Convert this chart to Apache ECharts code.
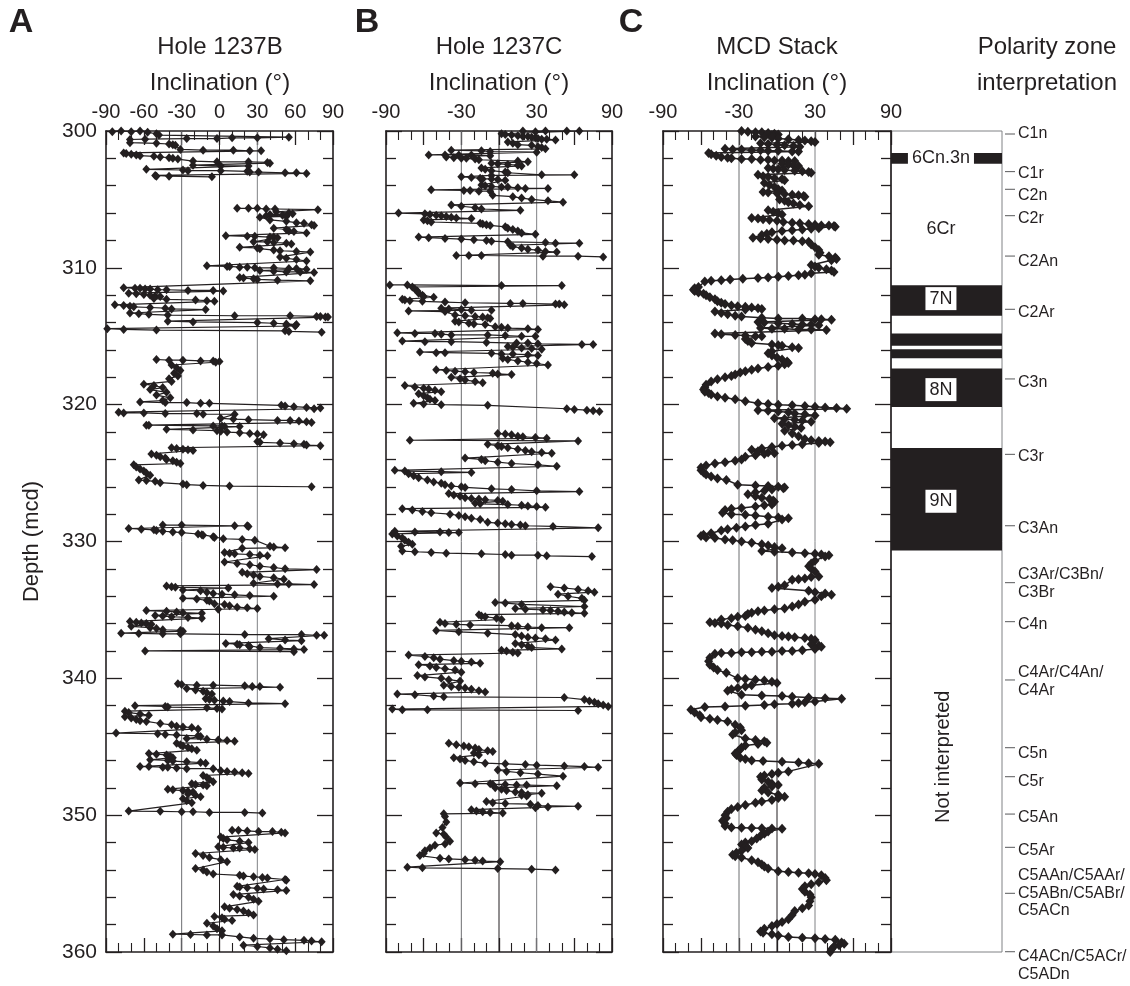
<!DOCTYPE html>
<html>
<head>
<meta charset="utf-8">
<script src="https://cdn.jsdelivr.net/npm/echarts@6/dist/echarts.min.js"></script>
<style>
  html, body { margin: 0; padding: 0; background: #fff; }
  #chart { width: 1130px; height: 986px; }
</style>
</head>
<body>
<div id="chart"></div>
<script>
// ---------- Data: [depth (mcd), inclination (deg)]; null marks a break between core sections ----------
const hole1237B = [
  [300.05,-85],[300.0,-78],[300.05,-70],[300.0,-63],[300.1,-57],[300.2,-50],[300.3,-48],
  [300.45,55],[300.5,30],[300.5,10],[300.55,-2],[300.55,-26],[300.6,-59],[300.62,-71],
  [300.85,-71],[300.9,-50],[300.95,-40],[301.0,-37],[301.05,-35],
  [301.35,-31],[301.4,-13],[301.4,11],[301.45,24],[301.45,33],
  [301.6,-76],[301.65,-74],[301.7,-70],[301.75,-66],[301.8,-63],[301.85,-52],[301.9,-47],[301.95,-40],[302.0,-37],[302.05,-33],
  [302.2,-21],[302.25,-2],[302.25,23],[302.3,38],[302.35,40],[302.5,-21],[302.55,1],[302.55,23],
  [302.8,-58],[302.85,-29],[302.9,-25],[302.9,1],[302.95,22],[303.0,24],[303.0,31],[303.05,52],[303.05,61],[303.1,69],
  [303.25,-51],[303.3,-50],[303.3,-40],[303.35,-6],
  null,
  [305.65,14],[305.65,23],[305.65,30],[305.7,37],[305.7,44],[305.75,78],
  [305.9,45],[306.0,55],[306.05,58],[306.1,40],[306.15,50],[306.2,37],[306.25,53],[306.3,32],
  [306.5,40],[306.6,53],[306.7,61],[306.75,67],[306.85,73],[306.9,75],
  [307.1,43],[307.2,53],[307.3,55],[307.35,59],[307.45,69],
  [307.65,5],[307.7,22],[307.7,28],[307.75,40],[307.75,43],[307.8,46],
  [308.1,27],[308.1,38],[308.15,43],[308.2,53],[308.25,57],
  [308.5,16],[308.55,30],[308.6,32],[308.7,43],[308.75,48],[308.8,61],[308.85,72],
  [309.2,48],[309.3,53],[309.4,61],[309.5,69],
  [309.85,-10],[309.9,6],[309.9,8],[309.95,16],[309.95,22],[310.0,28],[310.0,43],[310.05,55],[310.05,61],[310.1,69],
  [310.2,32],[310.25,43],[310.3,53],[310.3,64],[310.35,75],
  [310.7,16],[310.75,19],[310.8,27],[310.85,30],[310.9,46],[310.95,72],
  [311.45,-76],[311.5,-67],[311.5,-63],[311.55,-59],[311.55,-55],[311.6,-49],[311.6,-42],[311.65,-25],[311.65,-5],[311.7,3],
  [311.85,-72],[311.9,-66],[311.95,-60],[312.0,-55],[312.05,-51],[312.1,-47],
  [312.25,-52],[312.3,-42],[312.35,-19],[312.4,-10],[312.45,-4],
  [312.7,-83],[312.75,-76],[312.8,-71],[312.85,-68],[312.9,-55],[312.95,-43],[313.0,-38],[313.05,-11],
  [313.3,-71],[313.35,-64],[313.4,-56],[313.45,-41],[313.5,12],[313.5,56],[313.55,77],[313.55,80],[313.6,84],[313.6,86],
  [313.9,-41],[313.95,-21],[314.0,30],[314.05,43],[314.1,53],[314.15,61],[314.2,53],[314.25,60],
  [314.45,-89],[314.5,-76],[314.55,-50],[314.6,52],[314.65,55],[314.7,81],
  null,
  [316.7,-50],[316.75,-40],[316.75,-29],[316.8,-15],[316.8,-5],[316.85,0],[316.9,-3],
  [317.1,-38],[317.3,-34],[317.5,-31],[317.7,-36],[317.9,-33],[318.1,-40],[318.3,-38],
  [318.5,-60],[318.6,-52],[318.75,-45],[318.9,-55],[319.1,-42],[319.3,-50],[319.5,-39],[319.7,-45],
  [319.8,-63],[319.85,-43],[319.85,-26],[319.9,-15],[319.9,-8],
  [320.05,49],[320.1,52],[320.15,59],[320.2,69],[320.25,80],[320.3,75],
  [320.55,-80],[320.6,-76],[320.6,-60],[320.65,-43],[320.65,-18],[320.7,-13],[320.7,12],
  [321.0,1],[321.05,11],[321.1,23],[321.15,46],[321.15,56],[321.2,63],[321.25,69],[321.3,73],
  [321.5,-58],[321.5,-56],[321.55,-5],[321.55,2],[321.6,4],[321.6,16],
  [321.8,-42],[321.85,-21],[321.9,-2],[321.95,1],[322.0,6],[322.05,16],[322.1,24],[322.15,30],[322.2,35],
  [322.7,30],[322.75,32],[322.8,48],[322.85,59],[322.9,67],[322.95,69],[323.0,80],
  [323.15,-38],[323.2,-34],[323.25,-29],[323.3,-25],[323.35,-21],
  [323.6,-54],[323.7,-50],[323.8,-47],[323.9,-43],[324.0,-42],[324.1,-37],[324.2,-34],[324.3,-31],
  [324.4,-68],[324.55,-66],[324.7,-63],[324.85,-60],[325.0,-58],[325.15,-55],
  [325.5,-64],[325.55,-58],[325.6,-51],[325.7,-47],[325.8,-29],[325.85,-26],[325.9,-13],[325.95,8],[326.0,73],
  null,
  [328.8,-45],[328.8,-30],[328.85,12],[328.85,22],[328.9,23],
  [329.05,-72],[329.1,-62],[329.15,-52],[329.2,-50],[329.25,-45],[329.3,-37],[329.35,-30],
  [329.45,-17],[329.5,-14],[329.55,-13],[329.65,-5],[329.7,-4],[329.8,3],[329.85,18],[329.9,28],
  [330.35,40],[330.4,43],[330.45,52],[330.5,18],
  [330.8,4],[330.85,8],[330.9,12],[330.95,24],[331.0,32],[331.05,38],
  [331.5,4],[331.6,14],[331.7,24],[331.8,32],[331.9,43],[332.0,52],[332.05,77],
  [332.25,18],[332.35,22],[332.45,27],[332.55,32],[332.65,43],[332.75,51],
  [333.05,27],[333.1,46],[333.1,55],[333.15,75],
  [333.25,-42],[333.3,-38],[333.35,-35],[333.4,7],
  [333.55,-29],[333.6,-15],[333.7,-10],[333.8,-5],[333.85,2],[333.9,12],[333.95,24],[334.0,43],
  [334.15,-29],[334.2,-18],[334.3,-10],[334.35,-8],
  [334.55,-4],[334.6,4],[334.7,8],[334.8,14],[334.85,22],[334.9,30],[334.95,-1],
  [335.05,-58],[335.1,-42],[335.15,-34],[335.2,-29],[335.25,-14],
  [335.4,-51],[335.45,-45],[335.5,-38],[335.55,-25],[335.6,-14],
  [335.85,-71],[335.9,-66],[335.95,-62],[336.0,-58],[336.05,-54],
  [336.2,-70],[336.3,-55],[336.35,-50],[336.45,-45],[336.5,-31],[336.55,-29],
  [336.7,-78],[336.72,-64],[336.75,-45],[336.75,-31],[336.8,20],[336.8,65],[336.85,77],[336.85,83],
  [337.1,39],[337.2,52],[337.25,65],
  [337.45,5],[337.5,14],[337.55,16],[337.6,23],[337.7,24],[337.75,32],[337.8,48],[337.85,59],[337.9,67],
  [338.0,-59],[338.05,59],
  null,
  [340.4,-33],[340.45,-30],[340.5,-18],[340.5,-5],[340.55,20],[340.6,26],[340.6,32],[340.65,48],
  [340.75,-26],[340.85,-19],[340.95,-13],[341.05,-10],[341.15,-6],
  [341.5,-11],[341.55,-8],[341.6,-4],[341.65,3],[341.7,8],[341.8,23],[341.85,52],
  [342.0,-67],[342.05,-43],[342.1,-41],[342.15,-10],[342.2,-2],[342.25,2],
  [342.4,-75],[342.5,-72],[342.6,-63],[342.7,-56],
  [342.8,-75],[342.9,-70],[343.0,-66],[343.1,-63],[343.15,-58],
  [343.3,-47],[343.4,-38],[343.5,-34],[343.55,-29],[343.6,-22],[343.7,-17],
  [344.0,-82],[344.05,-49],[344.1,-43],[344.15,-34],[344.2,-17],[344.25,-15],
  [344.4,-26],[344.45,-10],[344.5,-1],[344.55,6],[344.6,12],
  [344.75,-34],[344.85,-31],[344.95,-29],[345.05,-25],[345.15,-22],[345.25,-18],
  [345.5,-56],[345.55,-50],[345.6,-42],[345.7,-39],[345.8,-37],
  [345.95,-55],[346.0,-41],[346.05,-37],[346.1,-26],[346.15,-15],[346.2,-11],
  [346.45,-63],[346.45,-56],[346.5,-45],[346.5,-41],[346.55,-34],[346.6,-26],[346.6,-5],
  [346.75,1],[346.8,6],[346.85,12],[346.9,18],[346.95,23],
  [347.1,-13],[347.25,-10],[347.4,-8],[347.55,-5],
  [347.7,-22],[347.75,-19],[347.8,-13],[347.85,-10],
  [348.1,-41],[348.15,-37],[348.2,-29],[348.25,-25],[348.3,-21],
  [348.45,-25],[348.55,-19],[348.65,-15],
  [348.8,-29],[348.95,-26],[349.1,-22],
  [349.7,-72],[349.72,-47],[349.75,-30],[349.75,-21],[349.8,-8],[349.8,20],[349.85,34],
  null,
  [351.1,10],[351.1,15],[351.15,22],[351.2,31],[351.2,42],[351.25,49],[351.3,52],
  [351.6,1],[351.7,3],[351.8,6],[351.9,16],[352.0,23],
  [352.3,-1],[352.35,3],[352.4,11],[352.4,16],[352.45,24],[352.5,28],
  [352.8,-19],[352.95,-13],[353.1,-8],[353.25,1],[353.4,6],
  [353.9,-19],[354.0,-13],[354.15,-10],[354.3,-5],
  [354.4,16],[354.45,19],[354.5,27],[354.55,34],[354.6,38],[354.7,52],[354.75,53],
  [355.2,14],[355.25,16],[355.3,22],[355.35,30],[355.4,35],[355.45,46],[355.5,53],
  [355.8,11],[355.9,16],[356.0,23],[356.15,27],[356.3,31],
  [356.7,4],[356.8,8],[356.9,14],[357.0,19],[357.15,23],[357.3,27],
  [357.4,-4],[357.5,2],[357.6,4],[357.7,10],
  [357.9,-10],[358.1,-5],[358.3,-2],[358.45,2],
  [358.7,-37],[358.72,-23],[358.75,-10],[358.75,2],
  [358.9,16],[359.0,27],[359.05,40],[359.1,51],[359.15,67],[359.2,73],[359.25,81],
  [359.5,19],[359.6,30],[359.7,40],[359.8,46],[359.9,53]
];

const hole1237C = [
  [300.0,19],[300.05,29],[300.0,37],[300.0,54],[300.0,64],
  [300.2,2],[300.25,5],[300.3,10],[300.35,15],[300.4,19],[300.4,23],[300.45,26],[300.5,29],[300.55,31],[300.6,34],[300.6,38],[300.65,45],
  [300.8,7],[300.9,11],[301.0,15],[301.05,26],[301.15,31],[301.2,34],[301.3,37],
  [301.4,-38],[301.45,-14],[301.5,-7],[301.55,30],
  [301.75,-56],[301.75,-43],[301.75,-32],[301.75,-22],[301.8,-7],
  [301.9,-42],[301.95,-36],[302.0,-30],[302.0,-26],[302.05,-19],[302.1,-16],
  [302.2,15],[302.25,23],[302.35,-6],[302.4,-1],[302.45,7],[302.5,15],[302.55,18],
  [302.7,-14],[302.8,-11],[302.9,-6],[303.0,5],[303.05,7],
  [303.2,34],[303.2,60],[303.25,-6],
  [303.35,-30],[303.4,-22],[303.45,-15],[303.5,-13],[303.5,-6],[303.55,-1],[303.6,5],
  [303.95,-14],[304.0,-11],[304.05,-6],[304.1,2],[304.1,7],[304.15,15],[304.2,21],[304.2,39],
  [304.3,-54],[304.35,-28],[304.35,-23],[304.4,-16],[304.4,-7],
  [304.7,-5],[304.8,11],[304.9,18],[305.0,26],[305.1,39],[305.2,51],
  [305.4,-38],[305.5,-30],[305.6,-19],[305.7,-14],[305.8,17],
  [306.0,-80],[306.05,-59],[306.1,-55],[306.15,-50],[306.2,-46],[306.25,-42],[306.3,-38],[306.35,-34],[306.4,-22],
  [306.5,-60],[306.55,-57],[306.65,-54],[306.75,-15],[306.8,-13],[306.85,-10],[306.9,-7],
  [307.0,5],[307.1,7],[307.2,11],[307.3,15],[307.45,18],[307.55,29],
  [307.75,-64],[307.8,-56],[307.85,-43],[307.9,-30],[307.95,-20],[308.0,-10],[308.05,-6],[308.1,7],[308.15,37],[308.2,45],[308.2,64],
  [308.35,9],[308.45,11],[308.55,18],[308.65,23],[308.7,31],[308.8,37],[308.85,46],
  [309.1,-34],[309.1,-24],[309.1,-14],[309.15,35],[309.15,63],[309.2,83],
  null,
  [311.25,-87],[311.25,-73],[311.3,2],[311.3,50],
  [311.4,-69],[311.55,-67],[311.7,-65],[311.85,-64],[312.0,-61],[312.1,-60],[312.15,-52],
  [312.3,-77],[312.35,-75],[312.4,-71],[312.45,-61],[312.5,-43],[312.55,-27],[312.6,9],[312.6,19],[312.65,45],[312.65,48],[312.7,52],
  [312.95,-46],[313.0,-40],[313.05,-30],[313.1,-22],[313.1,-6],[313.15,-72],[313.2,-43],
  [313.45,-35],[313.5,-27],[313.55,-19],[313.6,-13],[313.65,-9],[313.7,-7],
  [313.9,-35],[313.95,-32],[314.05,-24],[314.1,-20],[314.15,-11],
  [314.3,-3],[314.35,2],[314.4,7],[314.45,23],[314.5,31],
  [314.75,-81],[314.8,-67],[314.8,-51],[314.85,-46],[314.9,-38],[314.9,-9],[314.95,5],[315.0,18],[315.0,29],
  [315.35,-77],[315.4,-59],[315.4,-38],[315.45,-10],[315.5,14],[315.5,23],[315.55,31],[315.6,66],[315.6,75],
  [315.75,7],[315.8,11],[315.85,18],[315.9,26],[315.95,34],
  [316.15,-63],[316.2,-50],[316.2,-43],[316.25,-6],[316.3,2],[316.3,11],[316.35,23],[316.4,31],
  [316.6,3],[316.7,7],[316.8,15],[316.9,23],[317.0,30],[317.1,39],
  [317.45,-50],[317.5,-42],[317.55,-35],[317.6,-27],[317.65,-20],[317.7,-5],[317.75,-1],[317.8,10],
  [318.0,-38],[318.1,-31],[318.2,-27],[318.3,-19],[318.4,-13],
  [318.6,-75],[318.7,-67],[318.8,-60],[318.85,-56],[318.95,-51],[319.05,-46],
  [319.2,-64],[319.35,-60],[319.5,-57],[319.6,-55],[319.7,-51],
  [319.9,-68],[319.95,-60],[320.0,-46],[320.05,-9],
  [320.3,54],[320.35,60],[320.4,70],[320.45,75],[320.5,80],
  null,
  [322.1,-1],[322.15,5],[322.2,10],[322.3,15],[322.35,19],[322.4,29],[322.45,38],[322.6,-71],[322.65,63],
  [322.9,-9],[323.0,-1],[323.05,2],[323.15,7],[323.25,15],[323.35,21],[323.45,26],[323.5,34],[323.55,42],
  [323.9,-27],[324.0,-14],[324.1,-11],[324.2,-1],[324.3,10],[324.4,31],[324.5,46],
  [324.8,-83],[324.85,-75],[324.9,-46],[324.95,-22],
  [325.05,-72],[325.2,-68],[325.35,-64],[325.5,-57],[325.65,-52],[325.75,-46],[325.85,-43],
  [325.95,-38],[326.0,-30],[326.05,-27],[326.15,-6],[326.2,10],[326.3,30],[326.35,64],
  [326.5,-40],[326.6,-36],[326.7,-31],[326.8,-27],[326.85,-22],[326.9,-16],[326.95,-11],[327.0,-1],[327.05,3],
  [327.2,-19],[327.25,-15],[327.3,7],[327.35,18],[327.4,23],[327.45,30],[327.5,37],
  [327.6,-77],[327.7,-69],[327.8,-61],[327.9,-54],[328.0,-39],[328.1,-32],[328.2,-27],[328.3,-22],[328.4,-15],
  [328.6,-9],[328.65,-1],[328.7,5],[328.75,10],[328.8,17],[328.85,21],[328.9,43],[329.0,79],
  [329.25,-83],[329.3,-67],[329.3,-47],[329.35,-40],[329.35,-32],
  [329.45,-85],[329.6,-81],[329.75,-77],[329.9,-75],[330.05,-72],[330.2,-69],[330.35,-78],
  [330.7,-77],[330.75,-67],[330.8,-54],[330.85,-42],[330.9,-14],[330.95,5],[331.0,10],[331.0,31],[331.05,38],[331.1,74],
  null,
  [333.3,41],[333.4,52],[333.5,63],[333.6,71],[333.7,76],
  [333.85,47],[334.0,55],[334.15,66],[334.3,68],
  [334.45,-3],[334.5,5],[334.6,18],[334.75,68],
  [334.9,13],[334.95,21],[335.0,35],[335.05,41],[335.1,47],[335.15,52],[335.2,58],[335.25,68],
  [335.35,-16],[335.45,-14],[335.5,-11],[335.6,-2],[335.7,2],
  [335.9,-47],[336.0,-43],[336.05,-34],[336.1,-23],[336.15,10],[336.2,15],[336.25,23],[336.3,34],[336.3,56],
  [336.5,-50],[336.6,-32],[336.7,-9],[336.8,13],[336.9,18],[337.0,23],[337.05,29],[337.1,37],[337.2,45],
  [337.45,13],[337.55,18],[337.65,23],[337.75,26],[337.85,50],
  [337.95,2],[338.0,6],[338.1,11],[338.15,15],
  [338.3,-72],[338.4,-59],[338.5,-52],[338.6,-47],[338.7,-36],[338.75,-30],[338.8,-22],[338.9,-15],
  [339.0,-64],[339.1,-55],[339.2,-50],[339.3,-43],[339.4,-35],[339.55,-30],
  [339.8,-65],[339.9,-59],[340.0,-46],[340.1,-40],[340.2,-31],
  [340.5,-44],[340.6,-38],[340.65,-32],[340.7,-27],[340.8,-22],[340.9,-16],[341.0,-11],
  [341.15,-81],[341.2,-67],[341.3,-52],[341.35,-44],[341.4,52],
  [341.55,68],[341.65,72],[341.75,76],[341.85,79],[341.95,83],[342.05,87],
  [342.25,-85],[342.3,-77],[342.3,-57],[342.35,63],
  null,
  [344.75,-40],[344.85,-34],[344.95,-28],[345.0,-24],[345.1,-19],[345.2,-16],[345.3,-9],[345.35,-5],
  [345.45,-20],[345.6,-16],
  [345.8,-36],[345.9,-31],[346.0,-27],[346.1,-20],[346.2,-11],[346.25,5],[346.3,21],[346.35,30],[346.4,52],[346.45,68],[346.5,79],
  [346.7,-1],[346.8,6],[346.9,17],[347.0,31],[347.15,51],
  [347.65,-31],[347.7,-19],[347.7,-7],[347.75,-5],[347.75,5],[347.8,14],[347.8,22],[347.85,46],
  [348.0,-3],[348.1,2],[348.2,6],[348.3,13],[348.35,18],[348.4,34],[348.5,23],[348.55,18],[348.6,22],
  [349.0,-10],[349.1,-5],[349.15,5],[349.2,25],[349.3,31],[349.35,63],[349.4,39],[349.45,29],
  [349.6,-22],[349.7,-18],[349.75,-13],[349.8,-7],[349.85,3],
  [349.9,-44],[350.1,-43],[350.5,-42],[350.9,-45],[351.3,-50],[351.4,-44],[351.6,-42],[351.9,-39],[352.1,-43],[352.2,-51],[352.4,-55],[352.6,-59],[352.8,-60],[352.95,-63],
  [353.15,-47],[353.2,-40],[353.25,-27],[353.3,-19],[353.35,-13],[353.4,1],
  [353.8,-73],[353.85,-61],[353.9,-1],[353.95,26],[354.0,45]
];

const mcdStack = [
  [300.0,-28],[300.05,-23],[300.1,-17],[300.1,-12],[300.15,-7],[300.2,-2],[300.25,1],[300.3,-4],
  [300.4,-17],[300.45,-10],[300.5,-4],[300.55,1],[300.6,9],[300.65,17],[300.7,22],[300.75,27],[300.8,30],
  [300.9,-13],[300.95,-7],[301.0,0],[301.05,6],[301.1,13],[301.15,18],
  [301.3,-41],[301.35,-35],[301.35,-28],[301.4,-20],[301.4,-13],[301.45,-7],[301.45,1],[301.5,12],[301.5,17],
  [301.6,-54],[301.7,-52],[301.8,-48],[301.9,-44],[301.95,-39],
  [302.0,-36],[302.05,-28],[302.05,-20],[302.1,-13],[302.1,-7],[302.15,-2],[302.15,4],[302.2,9],[302.2,14],
  [302.4,4],[302.45,9],[302.5,13],[302.55,17],
  [302.7,-7],[302.75,-3],[302.8,1],[302.85,6],[302.9,14],[302.95,20],[303.0,25],[303.05,27],
  [303.2,-15],[303.3,-11],[303.35,-7],[303.45,-2],[303.5,4],[303.6,6],
  [303.8,-10],[303.95,-6],[304.1,-2],[304.25,1],[304.35,4],
  [304.45,-11],[304.5,-7],[304.55,0],[304.6,6],[304.65,12],[304.7,17],[304.75,21],[304.8,22],
  [305.0,2],[305.1,6],[305.2,9],[305.3,13],[305.4,18],[305.5,25],
  [305.8,-7],[305.9,-3],[306.0,1],[306.1,4],
  [306.35,-20],[306.4,-15],[306.45,-11],[306.5,-6],[306.55,0],
  [306.65,5],[306.7,12],[306.75,18],[306.8,25],[306.85,30],[306.9,35],[306.9,41],[306.95,45],[307.0,46],
  [307.1,33],[307.15,27],[307.2,20],[307.25,12],[307.3,4],[307.4,-4],[307.5,-8],[307.6,-12],
  [307.8,-19],[307.85,-13],[307.9,-7],[307.95,0],[308.0,6],[308.0,13],[308.05,20],[308.1,25],
  [308.3,27],[308.5,30],[308.7,33],[308.9,34],[309.05,33],
  [309.15,41],[309.25,46],[309.35,47],[309.45,43],
  [309.8,27],[309.9,30],[310.0,33],[310.1,39],[310.2,43],[310.3,45],
  [310.4,27],[310.5,22],[310.55,17],[310.6,9],[310.65,1],[310.7,-7],[310.75,-15],[310.8,-27],[310.85,-37],[310.9,-44],[310.95,-52],[311.0,-57],
  [311.4,-62],[311.5,-65],[311.6,-66],[311.7,-65],[311.8,-62],[311.9,-58],
  [312.0,-56],[312.15,-53],[312.3,-49],[312.45,-47],[312.55,-44],[312.65,-41],
  [312.75,-36],[312.8,-31],[312.85,-25],[312.9,-20],[312.95,-15],[313.0,-12],[313.05,-25],
  [313.2,-49],[313.3,-44],[313.4,-39],[313.5,-33],[313.55,-28],
  [313.65,-12],[313.7,1],[313.7,20],[313.75,30],[313.75,35],[313.8,43],
  [313.95,-15],[314.0,-10],[314.05,1],[314.1,12],[314.15,20],[314.15,27],[314.2,33],
  [314.4,-13],[314.45,-4],[314.45,6],[314.5,17],[314.5,27],[314.55,39],
  [314.8,-49],[314.85,-44],[314.9,-33],[314.95,-25],[315.0,-17],[315.0,-12],
  [315.2,-25],[315.35,-23],[315.5,-20],
  [315.6,-4],[315.65,1],[315.7,4],[315.8,12],[315.85,17],
  [316.1,-4],[316.25,-7],[316.4,-4],[316.55,0],
  [316.7,4],[316.85,8],[316.95,9],[317.05,6],[317.15,1],
  [317.25,-7],[317.35,-15],[317.45,-20],[317.55,-25],[317.65,-29],
  [317.8,-33],[317.9,-36],[318.0,-41],[318.15,-47],[318.3,-52],
  [318.55,-56],[318.75,-57],[318.9,-58],[319.05,-57],[319.15,-54],[319.25,-52],
  [319.4,-47],[319.5,-41],[319.6,-33],[319.75,-25],
  [319.9,-15],[319.95,-7],[320.0,1],[320.05,12],[320.1,22],[320.15,30],[320.2,38],[320.25,47],[320.3,55],
  [320.4,-15],[320.45,-7],[320.5,1],[320.55,9],[320.65,14],[320.7,22],[320.8,30],
  [321.0,-2],[321.05,6],[321.1,14],[321.15,20],[321.25,27],
  [321.4,4],[321.5,9],[321.6,14],[321.7,19],
  [321.9,6],[322.1,12],[322.3,17],[322.5,22],
  [322.6,27],[322.65,33],[322.7,38],[322.75,42],[322.8,33],
  [322.9,20],[322.95,12],[323.0,4],[323.1,-4],[323.2,-12],
  [323.3,-20],[323.4,-15],[323.5,-7],[323.55,-2],[323.6,-10],[323.7,-17],[323.8,-25],
  [324.0,-28],[324.1,-33],[324.2,-41],[324.3,-49],[324.45,-56],[324.6,-60],
  [324.8,-60],[324.95,-58],[325.1,-56],[325.25,-52],[325.4,-47],[325.5,-40],
  [325.85,-31],[325.9,-17],[325.95,-7],[326.0,1],[326.05,6],[326.1,5],
  [326.2,-4],[326.3,-10],[326.4,-17],[326.55,-23],
  [326.7,-17],[326.8,-12],[326.9,-6],[327.0,-3],[327.1,-2],
  [327.3,-4],[327.35,-10],[327.45,-17],[327.55,-28],[327.6,-36],[327.7,-41],
  [327.9,-43],[328.0,-36],[328.05,-25],[328.1,-17],[328.2,-7],[328.25,1],[328.3,9],[328.4,4],
  [328.7,-7],[328.8,-17],[328.9,-25],[329.0,-32],[329.1,-39],[329.2,-44],
  [329.4,-52],[329.5,-58],[329.6,-60],[329.7,-56],[329.75,-49],[329.85,-41],[329.9,-35],
  [330.0,-28],[330.1,-20],[330.2,-12],[330.3,-7],[330.4,-2],[330.5,4],
  [330.7,-12],[330.75,-2],[330.8,12],[330.85,22],[330.9,30],[330.95,35],[331.0,41],[331.1,38],
  [331.4,30],[331.6,27],[331.8,25],[332.0,27],[332.2,30],
  [332.55,33],[332.6,27],[332.7,22],[332.75,17],[332.8,12],
  [333.2,6],[333.3,1],[333.4,-4],
  [333.6,25],[333.7,30],[333.8,38],[333.9,43],[334.0,35],
  [334.25,30],[334.4,22],[334.6,17],[334.75,12],
  [334.9,6],[334.95,-2],[335.05,-10],[335.1,-15],[335.2,-20],[335.3,-23],
  [335.45,-25],[335.5,-31],[335.6,-36],[335.7,-44],
  [335.9,-53],[335.95,-49],[336.0,-44],[336.1,-39],[336.2,-31],[336.3,-23],
  [336.45,-17],[336.55,-12],[336.7,-7],[336.85,-2],
  [336.9,4],[336.95,9],[337.0,14],[337.05,22],[337.1,27],[337.2,30],
  [337.5,27],[337.6,33],[337.7,35],[337.85,30],
  [337.95,20],[338.0,12],[338.0,4],[338.05,-4],[338.05,-12],[338.1,-20],[338.1,-28],[338.15,-36],[338.15,-44],[338.2,-49],
  [338.5,-53],[338.75,-54],[339.0,-53],[339.2,-50],[339.4,-47],[339.6,-40],
  [340.0,-31],[340.05,-25],[340.1,-17],[340.15,-10],[340.25,-4],[340.35,0],
  [340.5,-20],[340.6,-25],[340.7,-31],[340.8,-36],[340.9,-39],
  [341.2,-28],[341.25,-12],[341.3,4],[341.35,12],[341.4,25],[341.45,38],[341.5,51],
  [341.7,30],[341.75,22],[341.8,17],[341.85,12],[341.9,-2],[341.95,-10],[342.0,-25],[342.05,-41],[342.1,-57],
  [342.3,-68],[342.5,-65],[342.7,-61],
  [342.85,-60],[342.95,-53],[343.05,-47],[343.15,-39],
  [343.4,-33],[343.6,-29],[343.8,-28],[343.95,-33],[344.1,-35],
  [344.4,-25],[344.5,-17],[344.6,-10],[344.7,-8],[344.8,-15],[344.9,-25],
  [345.05,-28],[345.2,-29],[345.35,-31],[345.5,-33],[345.6,-32],
  [345.8,-29],[345.9,-25],[346.0,-20],[346.05,-11],[346.1,4],[346.15,17],[346.2,25],[346.25,33],
  [346.8,9],[346.9,1],[347.0,-4],[347.1,-10],[347.2,-13],
  [347.4,-12],[347.55,-7],[347.7,-4],[347.8,1],[347.9,-4],[348.0,-10],
  [348.2,-12],[348.35,-7],[348.5,1],[348.65,6],[348.75,1],[348.9,-4],[349.0,-12],
  [349.1,-17],[349.25,-25],[349.4,-31],[349.55,-36],[349.75,-39],
  [350.0,-41],[350.2,-40],[350.4,-43],[350.6,-41],[350.8,-41],
  [350.9,-36],[350.92,-28],[350.94,-20],[350.96,-12],[350.98,-4],[351.0,4],
  [351.2,-7],[351.35,-10],[351.5,-13],[351.7,-16],[351.9,-20],
  [352.0,-25],[352.15,-28],[352.3,-25],[352.4,-23],
  [352.6,-28],[352.75,-32],[352.9,-35],[353.0,-33],[353.1,-28],
  [353.3,-20],[353.45,-15],[353.6,-12],[353.75,-10],[353.9,-7],
  [354.1,1],[354.15,9],[354.2,17],[354.25,25],[354.3,30],[354.4,35],
  [354.6,38],[354.75,39],[354.9,33],[355.05,27],[355.2,22],[355.4,20],
  [355.6,22],[355.8,26],[356.0,27],[356.3,26],[356.6,25],
  [356.8,20],[357.0,14],[357.3,12],[357.6,9],
  [357.8,4],[357.95,0],[358.1,-4],[358.3,-10],
  [358.5,-13],[358.6,-11],[358.7,-4],[358.8,1],
  [358.9,9],[358.95,20],[359.0,30],[359.05,38],[359.1,46],
  [359.3,51],[359.4,53],[359.5,49],[359.6,45],
  [359.8,43],[360.0,42]
];

// Polarity zones: [top depth, bottom depth] of normal (black) intervals
const normalZones = [[301.6,302.4],[311.27,313.5],[314.8,315.7],[315.95,316.6],[317.36,320.17],[323.17,330.65]];
// Zone names: [depth, name, boxed]
const zoneNames = [[301.97,'6Cn.3n',true],[307.16,'6Cr',false],[312.25,'7N',true],[318.9,'8N',true],[327.06,'9N',true]];
const notInterpretedDepth = 345.73;

// Chron correlation: tick depth, label depth, label
const chronTick = [300.22,302.97,304.26,306.19,309.14,313.03,318.12,323.63,328.85,333.01,335.86,340.12,345.07,347.19,349.92,352.35,355.71,359.98];
const chronLabelDepth = [300.22,303.09,304.75,306.43,309.55,313.28,318.37,323.8,329.09,333.06,336.1,340.24,345.48,347.55,350.16,352.6,355.71,361.0];
const chronNames = ['C1n','C1r','C2n','C2r','C2An','C2Ar','C3n','C3r','C3An','C3Ar/C3Bn/\nC3Br','C4n','C4Ar/C4An/\nC4Ar','C5n','C5r','C5An','C5Ar','C5AAn/C5AAr/\nC5ABn/C5ABr/\nC5ACn','C4ACn/C5ACr/\nC5ADn'];

// Inclination grid lines and labelled ticks
const gridValues = [-30, 0, 30];
const gridColors = ['#6d6e71', '#231f20', '#808285'];
const ticksA = [-90, -60, -30, 0, 30, 60, 90];
const ticksBC = [-90, -30, 30, 90];

// ---------- Chart ----------
const INK = '#231f20';
const FONT = '"Liberation Sans", Arial, Helvetica, sans-serif';
const chart = echarts.init(document.getElementById('chart'));

const panels = [
  { left: 106, width: 227, data: hole1237B, labels: ticksA, sym: [8, 9], lw: 1.2 },
  { left: 386, width: 226, data: hole1237C, labels: ticksBC, sym: [8, 9], lw: 1.2 },
  { left: 663, width: 228, data: mcdStack, labels: ticksBC, sym: [9, 10], lw: 1.5 }
];
const TOP = 131, HEIGHT = 821;

const grids = panels.map(p => ({ left: p.left, width: p.width, top: TOP, height: HEIGHT, containLabel: false, outerBoundsMode: 'none' }));
grids.push({ left: 891, width: 111, top: TOP, height: HEIGHT, show: true, borderColor: '#808285', borderWidth: 1, backgroundColor: 'transparent', containLabel: false, outerBoundsMode: 'none' });

const axisLine = { show: true, onZero: false, lineStyle: { color: INK, width: 1.6 } };
const xAxes = [], yAxes = [];
panels.forEach((p, i) => {
  const base = {
    type: 'value', gridIndex: i, min: -90, max: 90, interval: 30,
    axisLine, splitLine: { show: false },
    axisTick: { show: true, inside: true, length: 14, lineStyle: { color: INK, width: 1.3 } },
    minorTick: { show: true, splitNumber: 3, length: 9, lineStyle: { color: INK, width: 1.1 } },
    minorSplitLine: { show: false }
  };
  xAxes.push(Object.assign({}, base, {
    position: 'top',
    axisLabel: {
      show: true, color: INK, fontSize: 20, fontFamily: FONT, margin: 9,
      showMinLabel: true, showMaxLabel: true,
      formatter: v => (p.labels.indexOf(v) >= 0 ? String(v) : '')
    }
  }));
  xAxes.push(Object.assign({}, base, { position: 'bottom', axisLabel: { show: false } }));
  const ybase = {
    type: 'value', gridIndex: i, inverse: true, min: 300, max: 360, interval: 10,
    axisLine, splitLine: { show: false },
    axisTick: { show: true, inside: true, length: 16, lineStyle: { color: INK, width: 1.3 } },
    minorTick: { show: true, splitNumber: 5, length: 10, lineStyle: { color: INK, width: 1.3 } },
    minorSplitLine: { show: false }
  };
  yAxes.push(Object.assign({}, ybase, {
    position: 'left',
    axisLabel: { show: i === 0, color: INK, fontSize: 21, fontFamily: FONT, margin: 9 },
    name: i === 0 ? 'Depth (mcd)' : '',
    nameLocation: 'middle', nameRotate: 90, nameGap: 63,
    nameTextStyle: { color: INK, fontSize: 22, fontFamily: FONT }
  }));
  yAxes.push(Object.assign({}, ybase, { position: 'right', axisLabel: { show: false } }));
});
xAxes.push({ type: 'value', gridIndex: 3, min: 0, max: 1, show: false });
yAxes.push({ type: 'value', gridIndex: 3, inverse: true, min: 300, max: 360, show: false });

const series = [];
panels.forEach((p, i) => {
  series.push({
    type: 'custom', xAxisIndex: 2 * i, yAxisIndex: 2 * i, z: 1, silent: true,
    data: gridValues.map(v => [v, 330]),
    renderItem: (params, api) => {
      const a = api.coord([api.value(0), 300]);
      const b = api.coord([api.value(0), 360]);
      return { type: 'line', shape: { x1: a[0], y1: a[1], x2: b[0], y2: b[1] },
        style: { stroke: gridColors[params.dataIndex], lineWidth: 1 } };
    }
  });
  series.push({
    type: 'line', xAxisIndex: 2 * i, yAxisIndex: 2 * i, z: 3,
    data: p.data.map(d => (d ? [d[1], d[0]] : ['-', '-'])),
    connectNulls: false,
    symbol: 'diamond', symbolSize: p.sym, showSymbol: true,
    itemStyle: { color: INK },
    lineStyle: { color: INK, width: p.lw },
    clip: true
  });
});

// Black normal-polarity intervals
series.push({
  type: 'custom', xAxisIndex: 6, yAxisIndex: 6, z: 2, silent: true,
  data: normalZones.map(z => [0.5, z[0], z[1]]),
  encode: { x: 0, y: 1 },
  renderItem: (params, api) => {
    const a = api.coord([0, api.value(1)]);
    const b = api.coord([1, api.value(2)]);
    return { type: 'rect', shape: { x: a[0], y: a[1], width: b[0] - a[0], height: b[1] - a[1] },
      style: { fill: INK } };
  }
});
// Zone names
series.push({
  type: 'custom', xAxisIndex: 6, yAxisIndex: 6, z: 4, silent: true,
  data: zoneNames.map(z => [0.5, z[0]]),
  renderItem: (params, api) => {
    const z = zoneNames[params.dataIndex];
    const c = api.coord([0.45, z[0]]);
    const style = { text: z[1], x: c[0], y: c[1], fill: INK, font: '18px ' + FONT, align: 'center', verticalAlign: 'middle' };
    if (z[2]) { style.backgroundColor = '#fff'; style.padding = [3, 4, 2, 4]; }
    return { type: 'text', style };
  }
});
series.push({
  type: 'custom', xAxisIndex: 6, yAxisIndex: 6, z: 4, silent: true,
  data: [[0.5, notInterpretedDepth]],
  renderItem: (params, api) => {
    const c = api.coord([0.47, api.value(1)]);
    return { type: 'text', x: c[0], y: c[1], rotation: Math.PI / 2,
      style: { text: 'Not interpreted', x: 0, y: 0, fill: INK, font: '20px ' + FONT, align: 'center', verticalAlign: 'middle' } };
  }
});
// Chron labels to the right of the column
series.push({
  type: 'custom', xAxisIndex: 6, yAxisIndex: 6, z: 4, silent: true, clip: false,
  data: chronTick.map(d => [1, d]),
  renderItem: (params, api) => {
    const i = params.dataIndex;
    const t = api.coord([1, chronTick[i]]);
    const l = api.coord([1, chronLabelDepth[i]]);
    return { type: 'group', children: [
      { type: 'line', shape: { x1: t[0] + 3, y1: t[1], x2: t[0] + 13, y2: t[1] }, style: { stroke: '#58595b', lineWidth: 1 } },
      { type: 'text', style: { text: chronNames[i], x: t[0] + 16, y: l[1], fill: INK, font: '16px ' + FONT, align: 'left', verticalAlign: 'middle', lineHeight: 17.5 } }
    ] };
  }
});

const txt = (x, y, text, size, bold) => ({
  type: 'text', x, y, silent: true,
  style: { text, fill: INK, font: (bold ? 'bold ' : '') + size + 'px ' + FONT, align: 'center', verticalAlign: 'middle' }
});

chart.setOption({
  animation: false,
  backgroundColor: '#fff',
  grid: grids,
  xAxis: xAxes,
  yAxis: yAxes,
  series,
  graphic: [
    txt(21, 23, 'A', 34, true), txt(367, 23, 'B', 34, true), txt(631, 23, 'C', 34, true),
    txt(220, 47, 'Hole 1237B', 24), txt(220, 83, 'Inclination (°)', 24),
    txt(499, 47, 'Hole 1237C', 24), txt(499, 83, 'Inclination (°)', 24),
    txt(777, 47, 'MCD Stack', 24), txt(777, 83, 'Inclination (°)', 24),
    txt(1047, 47, 'Polarity zone', 24), txt(1047, 83, 'interpretation', 24)
  ]
});
</script>
</body>
</html>
